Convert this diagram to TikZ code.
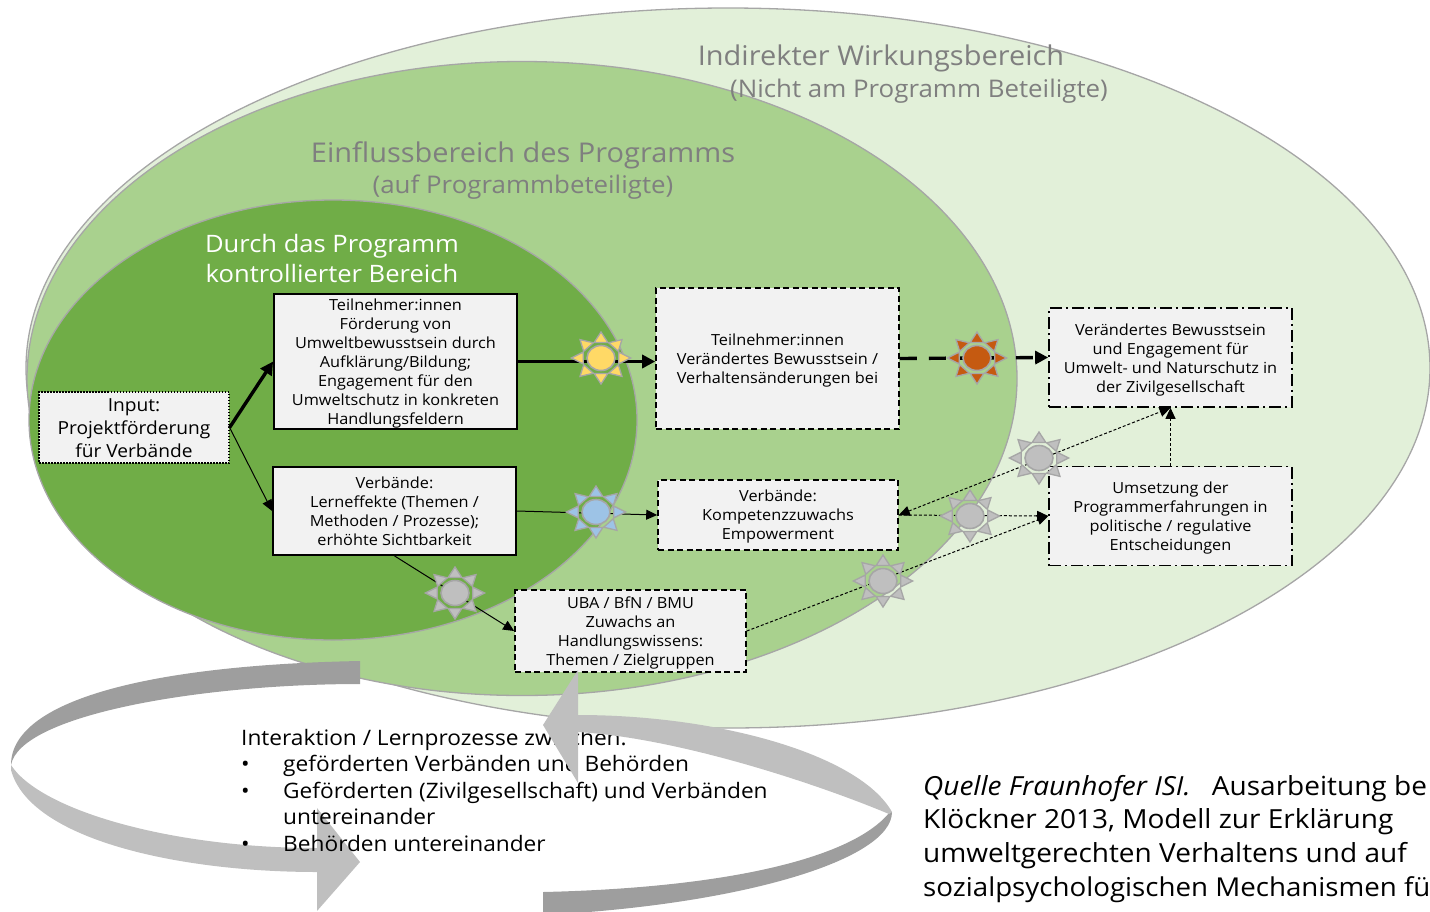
\documentclass[tikz,border=0pt]{standalone}
\usepackage{fontspec}
\setmainfont[FakeStretch=1.065]{Open Sans}
\usetikzlibrary{shapes.geometric,arrows.meta}
\definecolor{lightg}{HTML}{E2F0D9}
\definecolor{midg}{HTML}{A9D18E}
\definecolor{darkg}{HTML}{70AD47}
\definecolor{edge}{HTML}{A6A6A6}
\definecolor{boxf}{HTML}{F2F2F2}
\definecolor{lab}{HTML}{7F7F7F}
\definecolor{bandl}{HTML}{BFBFBF}
\definecolor{bandd}{HTML}{9E9E9E}
\definecolor{suny}{HTML}{FFD966}
\definecolor{sunb}{HTML}{9DC3E6}
\definecolor{suno}{HTML}{C55A11}
\definecolor{sung}{HTML}{BFBFBF}
\newcommand{\fl}{\rule{0pt}{16.5pt}}
\tikzset{
  zone/.style={draw=edge,line width=1.3pt},
  boxbase/.style={draw=black,fill=boxf,align=center,inner sep=0pt,font=\fontsize{15.3}{19}\selectfont},
  solidbox/.style={boxbase,line width=1.8pt},
  dashbox/.style={boxbase,line width=1.6pt,dash pattern=on 6pt off 3.5pt},
  dashdotbox/.style={boxbase,line width=1.6pt,dash pattern=on 12pt off 4pt on 2pt off 4pt},
  dotbox/.style={boxbase,line width=1.2pt,dash pattern=on 1.5pt off 1.5pt},
  tip/.style={-{Triangle[length=11pt,width=10pt]}},
  thin arrow/.style={tip,draw=black,line width=1pt},
  thick arrow/.style={-{Triangle[length=13pt,width=13pt]},draw=black,line width=3.4pt},
  dash arrow/.style={-{Triangle[length=13pt,width=13pt]},draw=black,line width=3.4pt,dash pattern=on 17pt off 12pt},
  dot arrow/.style={tip,draw=black,line width=1pt,dash pattern=on 3pt off 2pt},
  bigtitle/.style={text=lab,font=\fontsize{27.2}{30}\selectfont},
  subtitle/.style={text=lab,font=\fontsize{24.3}{27}\selectfont},
  lower/.style={anchor=base west,text=black,inner sep=0pt,font=\fontsize{21.3}{26}\selectfont},
}
\newcommand{\sunnode}[4]{%
  \begin{scope}[shift={(#2,#3)},xscale=1.14]
    \foreach \a in {0,45,...,315}{
      \begin{scope}[rotate=\a]
        \filldraw[draw=edge,fill=#4,line width=1.3pt,line join=miter] (15.5pt,-6pt) -- (26pt,0pt) -- (15.5pt,6pt) -- cycle;
      \end{scope}
    }
  \end{scope}
  \node[ellipse,draw=edge,fill=#4,line width=1.6pt,inner sep=0pt,minimum width=28pt,minimum height=25pt] (#1) at (#2,#3) {};
}
\begin{document}
\begin{tikzpicture}[x=1pt,y=-1pt]
\useasboundingbox (0,0) rectangle (1430,911);
\clip (0,0) rectangle (1430,911);
% zones
\draw[zone,fill=lightg] (728,368) ellipse [x radius=702,y radius=360];
\draw[zone,fill=midg] (522,378.5) ellipse [x radius=495,y radius=317];
\draw[zone,fill=darkg] (333,420) ellipse [x radius=304,y radius=220];
% titles
\node[bigtitle] (t1) at (881,58) {Indirekter Wirkungsbereich};
\node[subtitle] (t2) at (919,91) {(Nicht am Programm Beteiligte)};
\node[bigtitle] (t3) at (523,155) {Einflussbereich des Programms};
\node[subtitle] (t4) at (523,187) {(auf Programmbeteiligte)};
\node[text=white,font=\fontsize{24}{30}\selectfont,align=center] (t5) at (332,258) {Durch das Programm\\kontrollierter Bereich};
% boxes
\node[dotbox,minimum width=190pt,minimum height=71pt,font=\fontsize{18}{23}\selectfont] (input) at (134,427.5) {\rule{0pt}{15pt}Input:\\Projektförderung\\für Verbände};
\node[solidbox,minimum width=243pt,minimum height=135pt] (tn1) at (395.5,361.5) {\fl Teilnehmer:innen\\Förderung von\\Umweltbewusstsein durch\\Aufklärung/Bildung;\\Engagement für den\\Umweltschutz in konkreten\\Handlungsfeldern};
\node[solidbox,minimum width=243pt,minimum height=88pt] (vb1) at (394.5,511) {Verbände:\\Lerneffekte (Themen /\\Methoden / Prozesse);\\erhöhte Sichtbarkeit};
\node[dashbox,minimum width=243pt,minimum height=141pt] (tn2) at (777.5,358.5) {\fl Teilnehmer:innen\\Verändertes Bewusstsein /\\Verhaltensänderungen bei};
\node[dashbox,minimum width=240pt,minimum height=70pt] (vb2) at (778,515) {\rule{0pt}{14.5pt}Verbände:\\Kompetenzzuwachs\\Empowerment};
\node[dashbox,minimum width=231pt,minimum height=82pt] (uba) at (630.5,631) {\fl UBA / BfN / BMU\\Zuwachs an\\Handlungswissens:\\Themen / Zielgruppen};
\node[dashdotbox,minimum width=243pt,minimum height=99pt] (bew) at (1170.5,357.5) {\fl Verändertes Bewusstsein\\und Engagement für\\Umwelt- und Naturschutz in\\der Zivilgesellschaft};
\node[dashdotbox,minimum width=243pt,minimum height=99pt] (ums) at (1170.5,516) {\fl Umsetzung der\\Programmerfahrungen in\\politische / regulative\\Entscheidungen};
% connectors
\draw[thick arrow] (input.east) -- (tn1.west);
\draw[thin arrow] (input.east) -- (vb1.west);
\draw[thick arrow] (tn1.east) -- (tn1.east -| tn2.west);
\draw[dash arrow] (tn2.east) -- (bew.west);
\draw[thin arrow] (vb1.east) -- (vb2.west);
\draw[thin arrow] (vb1.south) -- (uba.west);
\draw[dot arrow] (uba.east) -- (ums.west);
\draw[dot arrow] (vb2.east) -- (ums.west);
\draw[dot arrow,{Triangle[length=11pt,width=10pt]}-{Triangle[length=11pt,width=10pt]}] (vb2.east) -- (bew.south);
\draw[dot arrow] (ums.north) -- (bew.south);
% suns
\sunnode{s1}{601}{358}{suny}
\sunnode{s2}{977}{358}{suno}
\sunnode{s3}{596}{512}{sunb}
\sunnode{s4}{455}{593}{sung}
\sunnode{s5}{1039}{458}{sung}
\sunnode{s6}{970}{516}{sung}
\sunnode{s7}{883}{581}{sung}
% left loop
\fill[bandd] (360,661) .. controls (150,665) and (11,700) .. (11,765) .. controls (20,715) and (200,684) .. (360,684) -- cycle;
\fill[bandl] (11,765) .. controls (40,810) and (170,848) .. (317,848) -- (317,808) -- (360,862) -- (317,911) -- (317,872) .. controls (180,872) and (30,840) .. (11,770) -- cycle;
% text
\node[lower] (l0) at (241,745) {Interaktion / Lernprozesse zwischen:};
\node[lower] (b1) at (241,771) {•};
\node[lower] (l1) at (283,771) {geförderten Verbänden und Behörden};
\node[lower] (b2) at (241,798) {•};
\node[lower] (l2) at (283,798) {Geförderten (Zivilgesellschaft) und Verbänden};
\node[lower] (l3) at (283,824) {untereinander};
\node[lower] (b3) at (241,851) {•};
\node[lower] (l4) at (283,851) {Behörden untereinander};
% right loop
\fill[bandd] (892,812) .. controls (892,860) and (740,905) .. (543,915) -- (543,892) .. controls (720,888) and (850,860) .. (889,813) -- cycle;
\fill[bandl] (578,670) -- (543,725) -- (578,783) -- (578,732) .. controls (680,738) and (820,785) .. (889,814) -- (892,812) .. controls (860,755) and (720,715) .. (578,715) -- cycle;
% source
\node[anchor=north west,inner sep=0pt,align=left,font=\fontsize{26.3}{33.6}\selectfont] (src) at (923,775) {\textit{Quelle Fraunhofer ISI.}\hspace{14pt} Ausarbeitung be\\Klöckner 2013, Modell zur Erklärung\\umweltgerechten Verhaltens und auf\\{\fontsize{26}{33.6}\selectfont sozialpsychologischen Mechanismen fü}};
\end{tikzpicture}
\end{document}
